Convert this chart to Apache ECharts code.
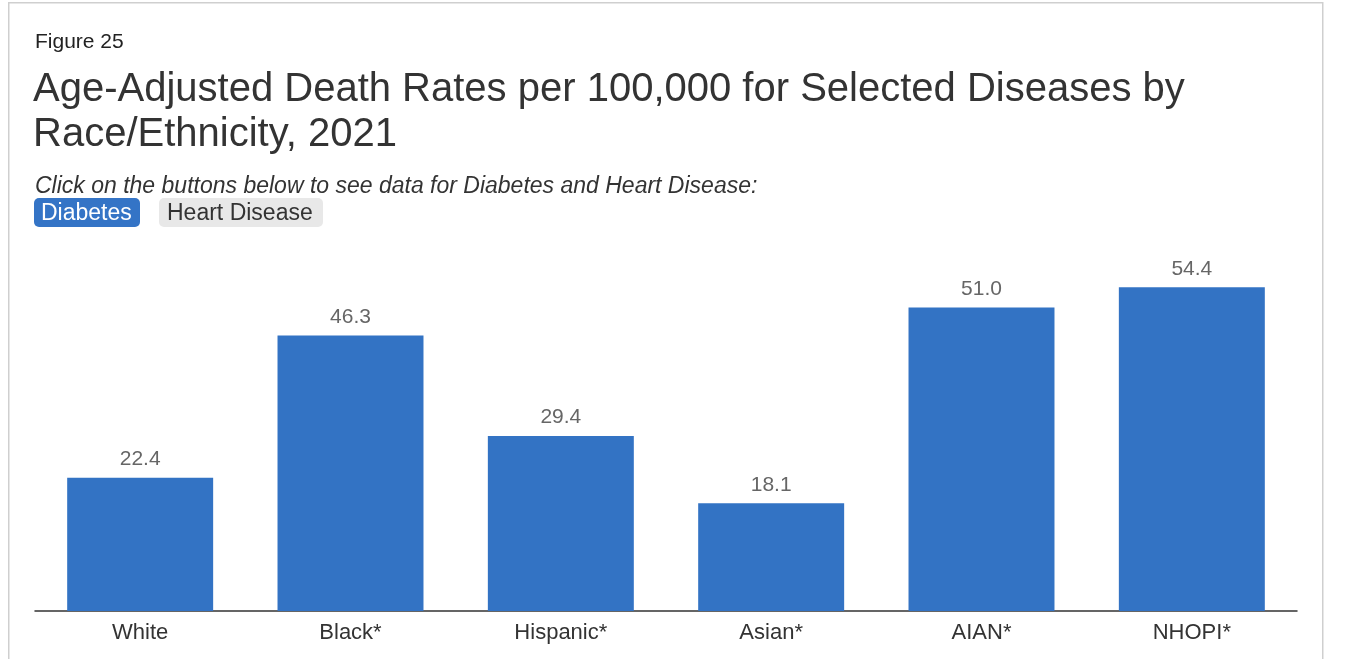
<!DOCTYPE html>
<html>
<head>
<meta charset="utf-8">
<style>
  html, body { margin: 0; padding: 0; background: #fff; }
  #chart { width: 1348px; height: 659px; }
</style>
<script src="https://cdn.jsdelivr.net/npm/echarts@6/dist/echarts.min.js"></script>
</head>
<body>
<div id="chart"></div>
<script>
// Age-adjusted diabetes death rates per 100,000, 2021
const categories = ['White', 'Black*', 'Hispanic*', 'Asian*', 'AIAN*', 'NHOPI*'];
const diabetesRates = [22.4, 46.3, 29.4, 18.1, 51.0, 54.4];
const buttonLabels = ['Diabetes', 'Heart Disease'];

const FONT = '"Liberation Sans", Arial, Helvetica, sans-serif';
const BAR_BLUE = '#3373c4';

const chart = echarts.init(document.getElementById('chart'), null, { renderer: 'canvas' });

chart.setOption({
  backgroundColor: '#ffffff',
  animation: false,
  textStyle: { fontFamily: FONT },
  graphic: [
    // card border
    {
      type: 'rect', left: 8, top: 2,
      shape: { width: 1314, height: 700 },
      style: { fill: '#fff', stroke: '#cfcfcf', lineWidth: 1.5 },
      z: -10
    },
    {
      type: 'text', left: 35, top: 32,
      style: { text: 'Figure 25', font: '21px ' + FONT, fill: '#222' }
    },
    {
      type: 'text', left: 33, top: 67,
      style: {
        text: 'Age-Adjusted Death Rates per 100,000 for Selected Diseases by\nRace/Ethnicity, 2021',
        font: '40px ' + FONT, fill: '#333', lineHeight: 45
      }
    },
    {
      type: 'text', left: 35, top: 175,
      style: {
        text: 'Click on the buttons below to see data for Diabetes and Heart Disease:',
        font: 'italic 23px ' + FONT, fill: '#333'
      }
    },
    // buttons
    {
      type: 'rect', left: 34, top: 198,
      shape: { width: 106, height: 29, r: 5 },
      style: { fill: '#3474c6' }
    },
    {
      type: 'text', left: 41, top: 202,
      style: { text: buttonLabels[0], font: '23px ' + FONT, fill: '#ffffff' }
    },
    {
      type: 'rect', left: 159, top: 198,
      shape: { width: 164, height: 29, r: 5 },
      style: { fill: '#e8e8e8' }
    },
    {
      type: 'text', left: 167, top: 202,
      style: { text: buttonLabels[1], font: '23px ' + FONT, fill: '#333' }
    }
  ],
  grid: { left: 35, right: 51, top: 254, bottom: 48, containLabel: false },
  xAxis: {
    type: 'category',
    data: categories,
    axisLine: { show: true, lineStyle: { color: '#333', width: 1.5 } },
    axisTick: { show: false },
    axisLabel: { color: '#333', fontSize: 22, margin: 11, fontFamily: FONT }
  },
  yAxis: {
    type: 'value',
    min: 0, max: 60,
    show: false,
    splitLine: { show: false }
  },
  series: [{
    type: 'bar',
    data: diabetesRates,
    barWidth: '69.4%',
    itemStyle: { color: BAR_BLUE },
    label: {
      show: true,
      position: 'top',
      distance: 8,
      color: '#666',
      fontSize: 21,
      fontFamily: FONT,
      formatter: p => p.value.toFixed(1)
    }
  }]
});
</script>
</body>
</html>
